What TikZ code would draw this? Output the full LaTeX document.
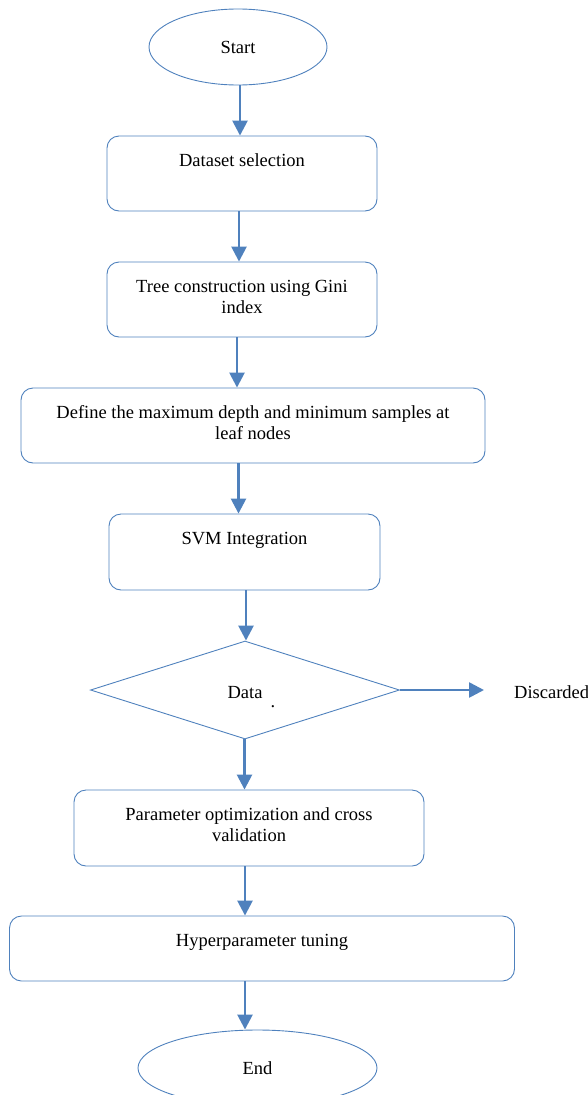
\documentclass[tikz,border=0pt]{standalone}
\usepackage{fontspec}
\setmainfont{Liberation Serif}
\usetikzlibrary{arrows.meta,shapes.geometric}
\definecolor{flowblue}{RGB}{79,129,189}

\begin{document}
\begin{tikzpicture}[
  x=1pt, y=-1pt,
  font=\fontsize{18.5}{21}\selectfont,
  stage/.style={draw=flowblue, line width=0.9pt, rounded corners=12pt, minimum height=75pt, inner sep=0pt},
  term/.style={draw=flowblue, line width=0.9pt, ellipse, minimum height=76pt, inner sep=0pt},
  txt/.style={anchor=base, align=center, inner sep=0pt, yshift=-31pt},
  txttwo/.style={txt, yshift=-21pt},
  mid/.style={anchor=base, inner sep=0pt},
  fl/.style={draw=flowblue, line width=2.6pt, -{Triangle[length=15pt,width=15pt]}},
]
\useasboundingbox (0,0) rectangle (588,1095);

\node[term, minimum width=178pt, label={[mid]center:Start}] (start) at (238,47) {};
\node[stage, minimum width=270pt, label={[txt]north:Dataset selection}] (data) at (242,173.5) {};
\node[stage, minimum width=270pt, label={[txttwo]north:Tree construction using Gini\\index}] (tree) at (242,299.5) {};
\node[stage, minimum width=464pt, label={[txttwo]north:Define the maximum depth and minimum samples at\\leaf nodes}] (depth) at (253,425.5) {};
\node[stage, minimum width=271pt, minimum height=76pt, label={[txt]north:SVM Integration}] (svm) at (244.5,552) {};
\node[diamond, draw=flowblue, line width=0.9pt, minimum width=309pt, minimum height=98pt, inner sep=0pt,
      label={[mid, yshift=-3pt]center:Data}] (check) at (245,690) {};
\node[mid] (dot) at (273,707) {.};
\node[anchor=base west, inner sep=0pt] (disc) at (514,698) {Discarded};
\node[stage, minimum width=350pt, minimum height=76pt, label={[txttwo]north:Parameter optimization and cross\\validation}] (param) at (249,828) {};
\node[stage, minimum width=505pt, minimum height=65pt, label={[txt]north:Hyperparameter tuning}] (hyper) at (262,948.5) {};
\node[term, minimum width=239pt, label={[mid]center:End}] (stop) at (257.5,1068) {};

\foreach \a/\b/\x in {start/data/240, data/tree/239, tree/depth/237, depth/svm/238.5,
                      svm/check/246, check/param/244.5, param/hyper/245, hyper/stop/245}
  \draw[fl] (\x,0 |- \a.south) -- (\x,0 |- \b.north);
\draw[fl, shorten >=30pt] (check.east) -- (check.east -| disc.west);
\end{tikzpicture}
\end{document}
